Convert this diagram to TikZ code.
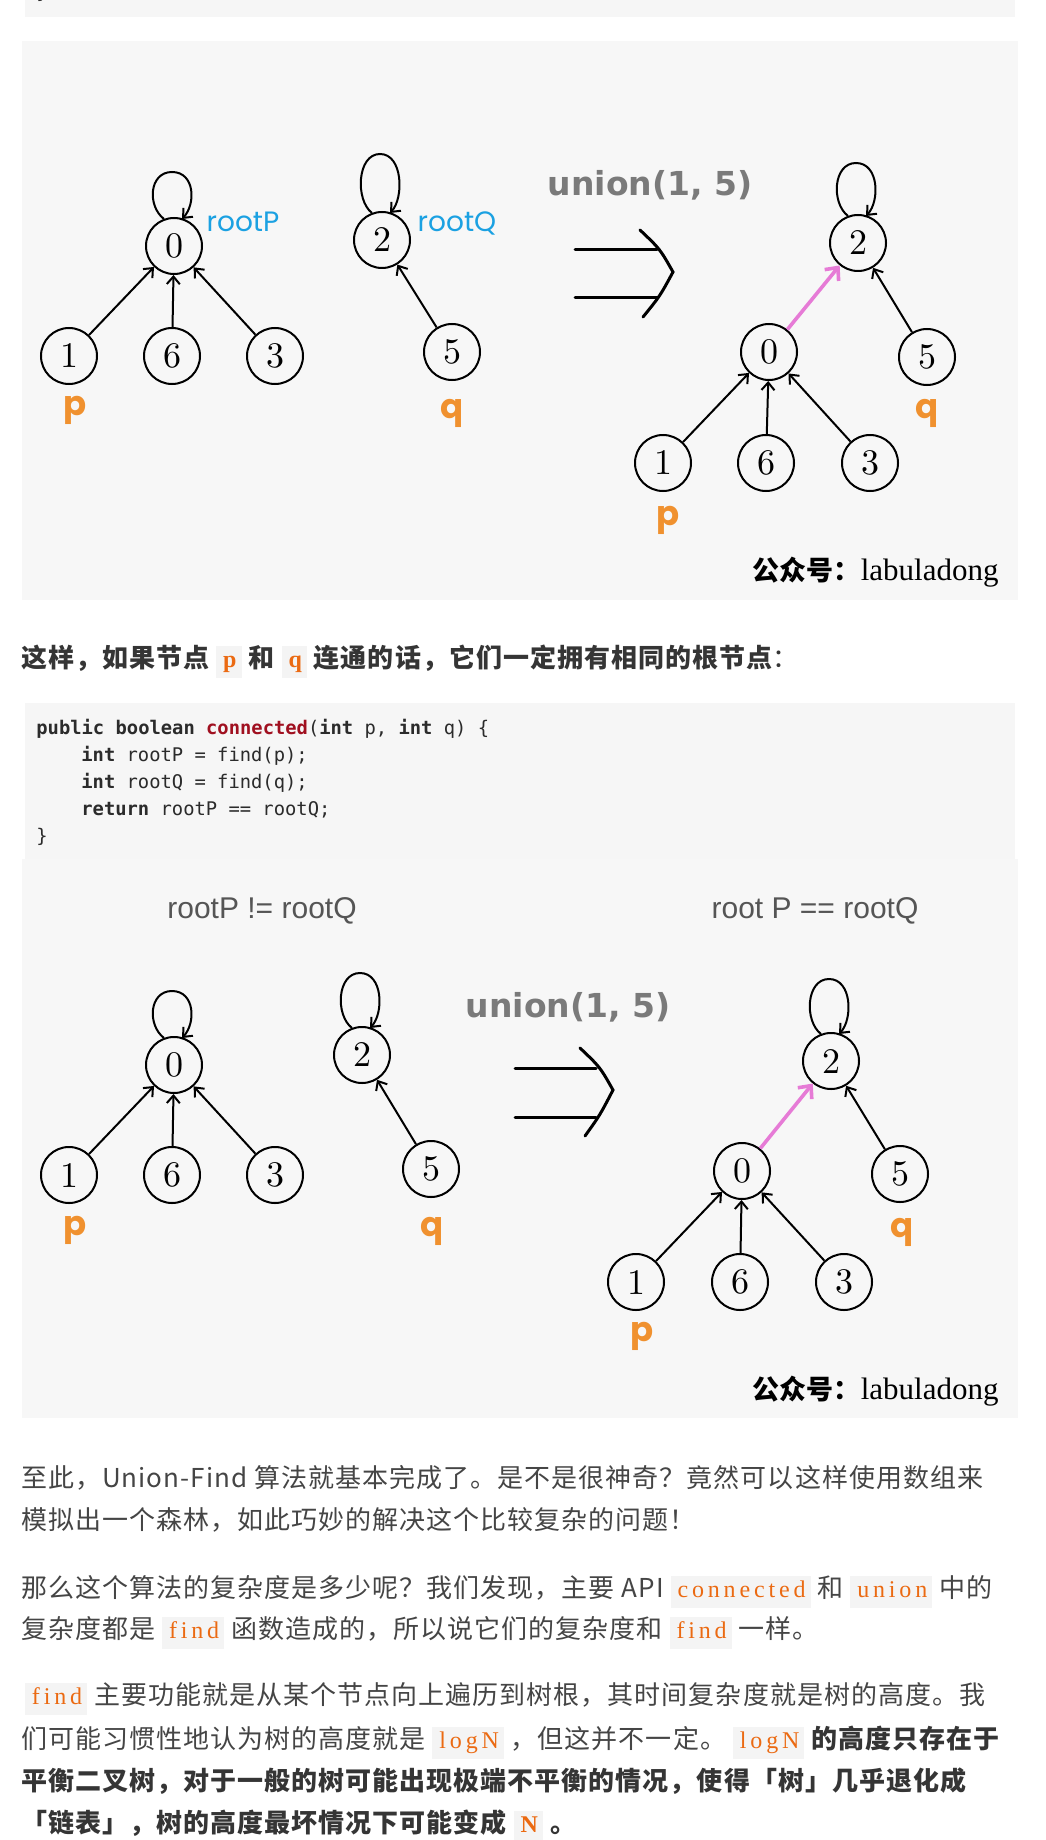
\documentclass[tikz,border=0pt]{standalone}
\usepackage{fontspec}
\usetikzlibrary{arrows.meta,calc}
\newfontfamily\cjk[LetterSpace=4]{Noto Sans CJK SC}
\newfontfamily\cjkw{Noto Sans CJK SC}
\newfontfamily\codefont{DejaVu Sans Mono}
\newfontfamily\icfont[LetterSpace=16]{Liberation Serif}
\newfontfamily\sansf{Liberation Sans}
\newfontfamily\unionf{DejaVu Sans}
\newfontfamily\handf{Poppins}
\newfontfamily\serifw{Liberation Serif}
\newfontfamily\digitf{lmroman10-regular.otf}
\definecolor{codebg}{HTML}{F6F6F6}
\definecolor{figbg}{HTML}{F7F7F7}
\definecolor{icbg}{HTML}{F4F4F4}
\definecolor{iccol}{HTML}{EB6A12}
\definecolor{txtc}{HTML}{454545}
\definecolor{boldc}{HTML}{353535}
\definecolor{codetxt}{HTML}{2B2B2B}
\definecolor{kwred}{HTML}{A01020}
\definecolor{cyanc}{HTML}{1BA1E2}
\definecolor{orangec}{HTML}{F0912F}
\definecolor{uniong}{HTML}{7A7A7A}
\definecolor{titleg}{HTML}{555555}
\definecolor{pinkc}{HTML}{E67BD6}
\newcommand\ic[1]{{\setlength\fboxsep{2pt}\colorbox{icbg}{\hspace{1.5pt}\icfont\fontsize{12pt}{12pt}\selectfont\color{iccol}\strut #1\hspace{0.5pt}}}}
\newcommand\kw[1]{{\bfseries #1}}
% self loop above a node: #1 node name, #2 height of loop top above centre
\newcommand\selfloop[2]{\draw[edge] ($(#1)+(-10,-27)$) .. controls ($(#1)+(-27,-40)$) and ($(#1)+(-25,-#2)$) .. ($(#1)+(-2,-#2)$) .. controls ($(#1)+(21,-#2)$) and ($(#1)+(22,-42)$) .. ($(#1)+(8,-27)$);}
\tikzset{
  txt/.style={anchor=base west, inner sep=0pt, outer sep=0pt, text=txtc, font=\cjk\fontsize{13pt}{13pt}\selectfont},
  btxt/.style={txt, text=boldc, font=\cjk\bfseries\fontsize{13pt}{13pt}\selectfont},
  code/.style={anchor=base west, inner sep=0pt, text=codetxt, font=\codefont\fontsize{9.4pt}{9.4pt}\selectfont},
  nd/.style={circle, draw, line width=1pt, minimum size=28pt, inner sep=0pt, font=\digitf\fontsize{18pt}{18pt}\selectfont},
  edge/.style={line width=1pt, -{Straight Barb[length=3.8pt,width=6.5pt]}},
  pinkedge/.style={line width=1.8pt, draw=pinkc, -{Straight Barb[length=5pt,width=9pt]}},
  impl/.style={line width=1.5pt, line cap=round},
  hand/.style={inner sep=0pt, text=cyanc, font=\handf\fontsize{14pt}{14pt}\selectfont},
  handpq/.style={inner sep=0pt, text=orangec, font=\handf\bfseries\fontsize{17pt}{17pt}\selectfont},
  uniontxt/.style={inner sep=0pt, text=uniong, font=\unionf\bfseries\fontsize{16.5pt}{16.5pt}\selectfont},
  titletxt/.style={inner sep=0pt, text=titleg, font=\sansf\fontsize{15pt}{15pt}\selectfont},
  wm/.style={anchor=east, inner sep=0pt, text=black},
}
\begin{document}
\begin{tikzpicture}[x=0.5pt,y=-0.5pt]
\useasboundingbox (0,0) rectangle (1045,1840);
\fill[white] (0,0) rectangle (1045,1840);
% top code box remainder
\fill[codebg] (25,-10) rectangle (1015,17);
\node[code] (topbrace) at (36,-1) {\}};
% figure 1 background
\fill[figbg] (22,41) rectangle (1018,600);
% ---------- figure 1 left ----------
\node[nd] (A0) at (174,246) {0};
\node[nd] (A1) at (69,356) {1};
\node[nd] (A6) at (172,356) {6};
\node[nd] (A3) at (275,356) {3};
\node[nd] (A2) at (382,240) {2};
\node[nd] (A5) at (452,352) {5};
\draw[edge] (A1) -- (A0);
\draw[edge] (A6) -- (A0);
\draw[edge] (A3) -- (A0);
\draw[edge] (A5) -- (A2);
\selfloop{A0}{74}
\selfloop{A2}{86}
\node[hand] (rPA) at (243,222) {rootP};
\node[hand] (rQA) at (457,223) {rootQ};
\node[handpq] (pA) at (75,410) {p};
\node[handpq] (qA) at (452,413) {q};
% union + implication
\node[uniontxt] (U1) at (650,185) {union(1, 5)};
\coordinate (i1a) at (575,250); \coordinate (i1b) at (657,250);
\coordinate (i1c) at (575,298); \coordinate (i1d) at (657,298);
\coordinate (i1t) at (640,230); \coordinate (i1m) at (673,272); \coordinate (i1u) at (643,317);
\draw[impl] (i1a) -- (i1b);
\draw[impl] (i1c) -- (i1d);
\draw[impl] (i1t) .. controls (660,249) .. (i1m) .. controls (660,296) .. (i1u);
% right tree
\node[nd] (B2) at (858,243) {2};
\node[nd] (B0) at (769,352) {0};
\node[nd] (B5) at (927,357) {5};
\node[nd] (B1) at (663,463) {1};
\node[nd] (B6) at (766,463) {6};
\node[nd] (B3) at (870,463) {3};
\draw[edge] (B1) -- (B0);
\draw[edge] (B6) -- (B0);
\draw[edge] (B3) -- (B0);
\draw[edge] (B5) -- (B2);
\draw[pinkedge] (B0) -- (B2);
\selfloop{B2}{80}
\node[handpq] (pB) at (668,520) {p};
\node[handpq] (qB) at (927,413) {q};
\node[wm] (W1) at (999,572) {\cjkw\bfseries\fontsize{13.5pt}{13.5pt}\selectfont 公众号：\serifw\mdseries\fontsize{15.5pt}{15.5pt}\selectfont labuladong};
% ---------- text line ----------
\node[btxt] (L0) at (21,667) {这样，如果节点 \ic{p} 和 \ic{q} 连通的话，它们一定拥有相同的根节点{\mdseries ：}};
% ---------- code block ----------
\fill[codebg] (25,703) rectangle (1015,859);
\node[code] (C1) at (36,734) {\kw{public} \kw{boolean} {\bfseries\color{kwred}connected}(\kw{int} p, \kw{int} q) \{};
\node[code] (C2) at (81,761) {\kw{int} rootP = find(p);};
\node[code] (C3) at (81,788) {\kw{int} rootQ = find(q);};
\node[code] (C4) at (81,815) {\kw{return} rootP == rootQ;};
\node[code] (C5) at (36,842) {\}};
% figure 2 background
\fill[figbg] (22,859) rectangle (1018,1418);
\node[titletxt] (T1) at (262,911) {rootP != rootQ};
\node[titletxt] (T2) at (815,911) {root P == rootQ};
% left
\node[nd] (C0n) at (174,1065) {0};
\node[nd] (C1n) at (69,1175) {1};
\node[nd] (C6n) at (172,1175) {6};
\node[nd] (C3n) at (275,1175) {3};
\node[nd] (C2n) at (362,1055) {2};
\node[nd] (C5n) at (431,1169) {5};
\draw[edge] (C1n) -- (C0n);
\draw[edge] (C6n) -- (C0n);
\draw[edge] (C3n) -- (C0n);
\draw[edge] (C5n) -- (C2n);
\selfloop{C0n}{74}
\selfloop{C2n}{82}
\node[handpq] (pC) at (75,1230) {p};
\node[handpq] (qC) at (432,1231) {q};
\node[uniontxt] (U2) at (568,1007) {union(1, 5)};
\coordinate (i2a) at (515,1068); \coordinate (i2b) at (596,1068);
\coordinate (i2c) at (515,1117); \coordinate (i2d) at (596,1117);
\coordinate (i2t) at (580,1048); \coordinate (i2m) at (613,1090); \coordinate (i2u) at (585,1136);
\draw[impl] (i2a) -- (i2b);
\draw[impl] (i2c) -- (i2d);
\draw[impl] (i2t) .. controls (600,1067) .. (i2m) .. controls (600,1115) .. (i2u);
% right
\node[nd] (D2) at (831,1061) {2};
\node[nd] (D0) at (742,1171) {0};
\node[nd] (D5) at (900,1174) {5};
\node[nd] (D1) at (636,1282) {1};
\node[nd] (D6) at (740,1282) {6};
\node[nd] (D3) at (844,1282) {3};
\draw[edge] (D1) -- (D0);
\draw[edge] (D6) -- (D0);
\draw[edge] (D3) -- (D0);
\draw[edge] (D5) -- (D2);
\draw[pinkedge] (D0) -- (D2);
\selfloop{D2}{82}
\node[handpq] (pD) at (642,1336) {p};
\node[handpq] (qD) at (902,1232) {q};
\node[wm] (W2) at (999,1391) {\cjkw\bfseries\fontsize{13.5pt}{13.5pt}\selectfont 公众号：\serifw\mdseries\fontsize{15.5pt}{15.5pt}\selectfont labuladong};
% ---------- paragraphs ----------
\node[txt] (P1a) at (21,1487) {至此，Union-Find 算法就基本完成了。是不是很神奇？竟然可以这样使用数组来};
\node[txt] (P1b) at (21,1529) {模拟出一个森林，如此巧妙的解决这个比较复杂的问题！};
\node[txt] (P2a) at (21,1597) {那么这个算法的复杂度是多少呢？我们发现，主要 API \ic{connected} 和 \ic{union} 中的};
\node[txt] (P2b) at (21,1638) {复杂度都是 \ic{find} 函数造成的，所以说它们的复杂度和 \ic{find} 一样。};
\node[txt] (P3a) at (25,1704) {\ic{find} 主要功能就是从某个节点向上遍历到树根，其时间复杂度就是树的高度。我};
\node[txt] (P3b) at (21,1748) {们可能习惯性地认为树的高度就是 \ic{logN} ，但这并不一定。 \ic{logN} {\bfseries\color{boldc}的高度只存在于}};
\node[btxt] (P3c) at (21,1790) {平衡二叉树，对于一般的树可能出现极端不平衡的情况，使得「树」几乎退化成};
\node[btxt] (P3d) at (21,1832) {「链表」，树的高度最坏情况下可能变成 \ic{N} 。};
\end{tikzpicture}
\end{document}
